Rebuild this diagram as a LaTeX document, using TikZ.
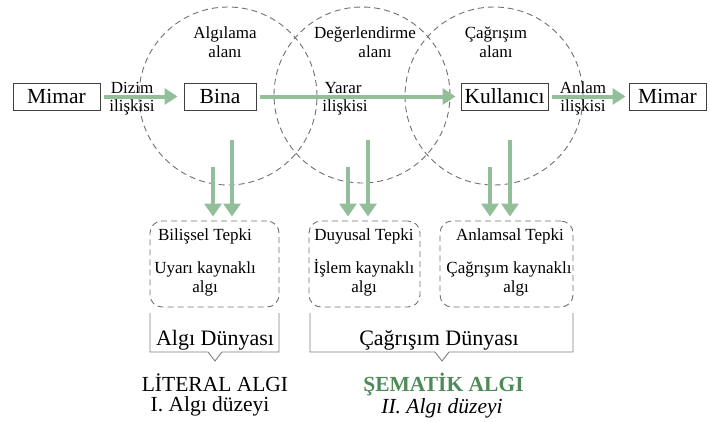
\documentclass[tikz,border=0pt]{standalone}
\usepackage{fontspec}
\IfFontExistsTF{LiberationSerif-Regular.ttf}
  {\setmainfont{LiberationSerif}[Extension=.ttf, UprightFont=*-Regular, BoldFont=*-Bold, ItalicFont=*-Italic, BoldItalicFont=*-BoldItalic]}
  {\setmainfont{Liberation Serif}}
\usetikzlibrary{arrows.meta}
\definecolor{arrgreen}{HTML}{93BE9A}
\definecolor{darkgreen}{HTML}{4E8A5A}
\definecolor{dgray}{HTML}{707070}
\definecolor{bgray}{HTML}{808080}
\begin{document}
\begin{tikzpicture}[x=1pt,y=-1pt,
  box/.style={draw=black!75, line width=0.8pt, minimum height=27pt, inner sep=0pt, font=\fontsize{21.5}{24}\selectfont},
  circ/.style={draw=dgray, dash pattern=on 6pt off 4pt, line width=0.9pt},
  flow/.style={draw=arrgreen, line width=4pt, -{Triangle[width=16pt,length=13pt]}},
  down/.style={draw=arrgreen, line width=3.5pt, -{Triangle[width=17pt,length=13pt]}},
  lbl/.style={inner sep=0pt, anchor=base, font=\fontsize{17}{19}\selectfont},
  tbox/.style={draw=dgray, dash pattern=on 6pt off 4pt, line width=0.9pt, rounded corners=12pt, inner sep=0pt},
  brk/.style={draw=bgray, line width=0.9pt},
  big/.style={inner sep=0pt, anchor=base, font=\fontsize{22}{24}\selectfont},
  bot/.style={inner sep=0pt, anchor=base, font=\fontsize{21.5}{24}\selectfont}
]
\useasboundingbox (0,0) rectangle (710,421);

% circles
\draw[circ] (228,96) circle[radius=89pt];
\draw[circ] (362,95) circle[radius=88pt];
\draw[circ] (494,96) circle[radius=89pt];

% circle titles
\node[lbl] (t1a) at (225,38) {Algılama};
\node[lbl] (t1b) at (225,57) {alanı};
\node[lbl] (t2a) at (365,38) {Değerlendirme};
\node[lbl] (t2b) at (375,57) {alanı};
\node[lbl] (t3a) at (496,38) {Çağrışım};
\node[lbl] (t3b) at (496,57) {alanı};

% main boxes
\node[box, minimum width=87pt] (m1) at (56.5,96.5) {Mimar};
\node[box, minimum width=72pt] (bina) at (220,96.5) {Bina};
\node[box, minimum width=87pt] (kul) at (504.5,96.5) {Kullanıcı};
\node[box, minimum width=77pt] (m2) at (667.5,96.5) {Mimar};

% horizontal arrows
\draw[flow, shorten <=4pt, shorten >=6pt] (m1) -- (bina);
\draw[flow, shorten <=4pt, shorten >=5pt] (bina) -- (kul);
\draw[flow, shorten <=4pt, shorten >=3pt] (kul) -- (m2);

% arrow labels
\node[lbl] (d1) at (132,93) {Dizim};
\node[lbl] (d2) at (132,111) {ilişkisi};
\node[lbl] (y1) at (343,93) {Yarar};
\node[lbl] (y2) at (345,111) {ilişkisi};
\node[lbl] (a1) at (583,93) {Anlam};
\node[lbl] (a2) at (583,111) {ilişkisi};

% dashed response boxes
\node[tbox, minimum width=129pt, minimum height=86pt] (b1) at (214.5,264) {};
\node[tbox, minimum width=111pt, minimum height=86pt] (b2) at (364.5,264) {};
\node[tbox, minimum width=133pt, minimum height=86pt] (b3) at (506.5,264) {};

\node[lbl] (b1a) at (205,240) {Bilişsel Tepki};
\node[lbl] (b1b) at (205,273) {Uyarı kaynaklı};
\node[lbl] (b1c) at (205,292) {algı};
\node[lbl] (b2a) at (364,240) {Duyusal Tepki};
\node[lbl] (b2b) at (364,273) {İşlem kaynaklı};
\node[lbl] (b2c) at (364,292) {algı};
\node[lbl] (b3a) at (510,240) {Anlamsal Tepki};
\node[lbl] (b3b) at (509,273) {Çağrışım kaynaklı};
\node[lbl] (b3c) at (516,292) {algı};

% vertical arrows
\coordinate (s1) at (213,167);
\coordinate (s2) at (232,140);
\coordinate (s3) at (348,167);
\coordinate (s4) at (368,140);
\coordinate (s5) at (490,167);
\coordinate (s6) at (510,140);
\draw[down, shorten >=4pt] (s1) -- (s1 |- b1.north);
\draw[down, shorten >=4pt] (s2) -- (s2 |- b1.north);
\draw[down, shorten >=4pt] (s3) -- (s3 |- b2.north);
\draw[down, shorten >=4pt] (s4) -- (s4 |- b2.north);
\draw[down, shorten >=4pt] (s5) -- (s5 |- b3.north);
\draw[down, shorten >=4pt] (s6) -- (s6 |- b3.north);

% brackets
\draw[brk] (150,313) -- (150,352) -- (208,352) -- (215,361) -- (222,352) -- (279,352) -- (279,313);
\draw[brk] (310,313) -- (310,352) -- (435,352) -- (442,361) -- (449,352) -- (573,352) -- (573,313);
\node[big] (w1) at (215,345.5) {Algı Dünyası};
\node[big] (w2) at (439,345.5) {Çağrışım Dünyası};

% bottom labels
\node[bot] (l1) at (215,391) {LİTERAL ALGI};
\node[bot] (l2) at (210,411.5) {I. Algı düzeyi};
\node[bot, text=darkgreen, font=\fontsize{21.5}{24}\selectfont\bfseries] (s1t) at (443.5,391) {ŞEMATİK ALGI};
\node[bot, font=\fontsize{21.5}{24}\selectfont\itshape] (s2t) at (442,413) {II. Algı düzeyi};
\end{tikzpicture}
\end{document}
